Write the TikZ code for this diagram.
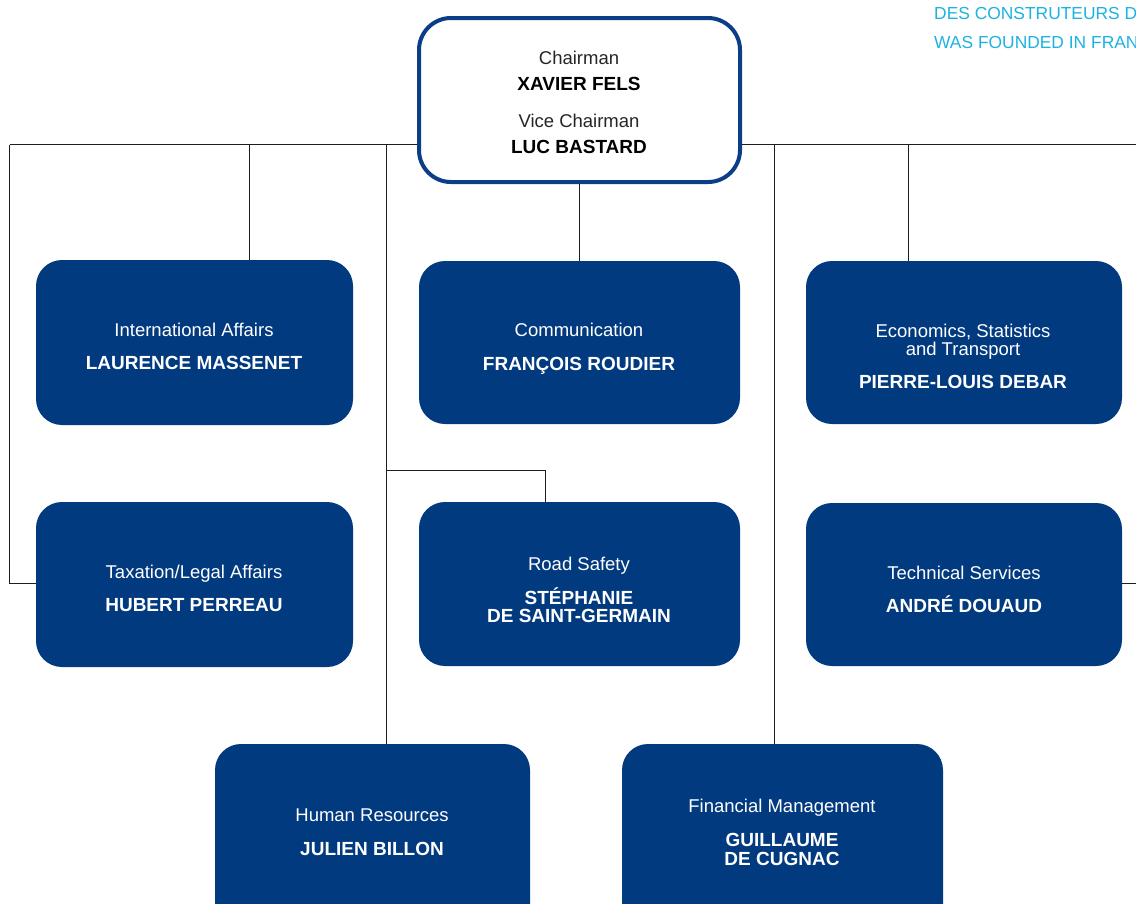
\documentclass[tikz,border=0pt]{standalone}
\usepackage{fontspec}
\setmainfont{Liberation Sans}
\definecolor{boxblue}{RGB}{2,58,128}
\definecolor{rimblue}{RGB}{12,62,135}
\definecolor{cyantext}{RGB}{30,178,226}
\definecolor{linegray}{RGB}{30,30,30}
\tikzset{
  unit/.style={draw=none, fill=boxblue, rounded corners=26pt, inner sep=0pt},
  headbox/.style={draw=rimblue, line width=4pt, fill=white, rounded corners=32pt, inner sep=0pt},
  role/.style={anchor=base, inner sep=0pt, text=white, font=\fontsize{18.5}{18}\selectfont, align=center},
  who/.style={anchor=base, inner sep=0pt, text=white, font=\fontsize{19}{18}\selectfont\bfseries, align=center},
  hrole/.style={anchor=base, inner sep=0pt, text=black!85, font=\fontsize{18.5}{18}\selectfont},
  hwho/.style={anchor=base, inner sep=0pt, text=black, font=\fontsize{19}{18}\selectfont\bfseries},
  note/.style={anchor=base west, inner sep=0pt, text=cyantext, font=\fontsize{17.4}{18}\selectfont},
  wire/.style={draw=linegray, line width=1pt}
}
\begin{document}
\begin{tikzpicture}[x=1pt,y=-1pt]
\useasboundingbox (0,0) rectangle (1136,903);
\clip (0,0) rectangle (1136,903);
\fill[white] (0,0) rectangle (1136,903);

% header note (cut by the page edge)
\node[note] (n1) at (934,19) {DES CONSTRUTEURS D};
\node[note] (n2) at (934,48.3) {WAS FOUNDED IN FRAN};

% boxes
\node[headbox, minimum width=321pt, minimum height=164pt] (top) at (579.5,100) {};
\node[unit, minimum width=317pt, minimum height=165pt] (ia) at (194.5,342.5) {};
\node[unit, minimum width=321pt, minimum height=163pt] (comm) at (579.5,342.5) {};
\node[unit, minimum width=316pt, minimum height=163pt] (econ) at (964,342.5) {};
\node[unit, minimum width=317pt, minimum height=165pt] (tax) at (194.5,584.5) {};
\node[unit, minimum width=321pt, minimum height=164pt] (road) at (579.5,584) {};
\node[unit, minimum width=316pt, minimum height=163pt] (tech) at (964,584.5) {};
\node[unit, minimum width=315pt, minimum height=186pt] (hr) at (372.5,837) {};
\node[unit, minimum width=321pt, minimum height=186pt] (fin) at (782.5,837) {};

% connectors
\coordinate (busL) at (9.5,144.5);
\coordinate (busR) at (1136,144.5);
\coordinate (jIA) at (249.3,144.5);
\coordinate (jHR) at (386,144.5);
\coordinate (jFin) at (774,144.5);
\coordinate (jEcon) at (908,144.5);
\coordinate (lowL) at (9.5,583.3);
\coordinate (lowR) at (1136,583.3);
\coordinate (brA) at (386,470.7);
\coordinate (brB) at (545,470.7);

\draw[wire] (busL) -- (top.west |- busL);
\draw[wire] (top.east |- busR) -- (busR);
\draw[wire] (busL) -- (lowL) -- (lowL -| tax.west);
\draw[wire] (jIA) -- (jIA |- ia.north);
\draw[wire] (jHR) -- (jHR |- hr.north);
\draw[wire] (brA) -- (brB) -- (brB |- road.north);
\draw[wire] (top.south) -- (comm.north);
\draw[wire] (jFin) -- (jFin |- fin.north);
\draw[wire] (jEcon) -- (jEcon |- econ.north);
\draw[wire] (lowR -| tech.east) -- (lowR);

% header text
\node[hrole] (t1) at (579,64) {Chairman};
\node[hwho] (t2) at (579,90) {XAVIER FELS};
\node[hrole] (t3) at (579,127.7) {Vice Chairman};
\node[hwho] (t4) at (579,153.3) {LUC BASTARD};

% unit texts
\node[role] (ia1) at (194,336) {International Affairs};
\node[who] (ia2) at (194,369) {LAURENCE MASSENET};
\node[role] (co1) at (579,336) {Communication};
\node[who] (co2) at (579,370) {FRANÇOIS ROUDIER};
\node[role] (ec1) at (963,337) {Economics, Statistics};
\node[role] (ec2) at (963,355) {and Transport};
\node[who] (ec3) at (963,388) {PIERRE-LOUIS DEBAR};
\node[role] (tx1) at (194,578) {Taxation/Legal Affairs};
\node[who] (tx2) at (194,611) {HUBERT PERREAU};
\node[role] (rs1) at (579,570) {Road Safety};
\node[who] (rs2) at (579,604) {STÉPHANIE};
\node[who] (rs3) at (579,622) {DE SAINT-GERMAIN};
\node[role] (ts1) at (964,579) {Technical Services};
\node[who] (ts2) at (964,612) {ANDRÉ DOUAUD};
\node[role] (hr1) at (372,821.7) {Human Resources};
\node[who] (hr2) at (372,855.7) {JULIEN BILLON};
\node[role] (fi1) at (782,812.3) {Financial Management};
\node[who] (fi2) at (782,846.7) {GUILLAUME};
\node[who] (fi3) at (782,865) {DE CUGNAC};
\end{tikzpicture}
\end{document}
